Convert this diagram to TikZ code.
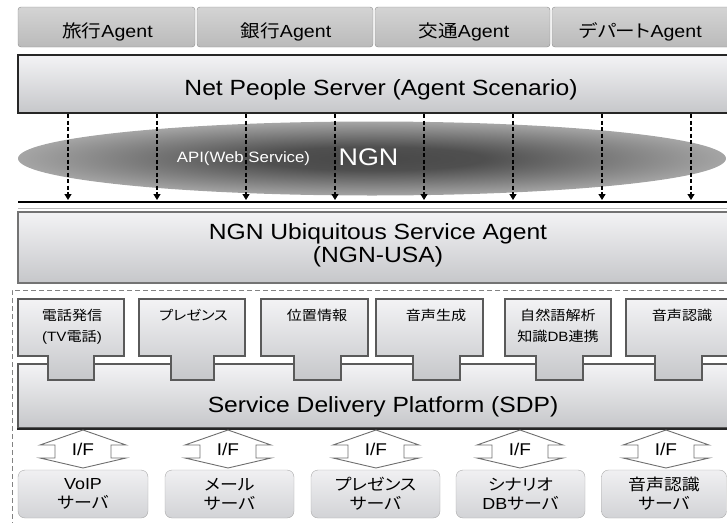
\documentclass[tikz,border=0pt]{standalone}
\usepackage{fontspec}
\setmainfont{Liberation Sans}[FakeStretch=1.12]
\newfontfamily\jp{Noto Sans CJK JP}[FakeStretch=1.12,RawFeature=+palt]
\usepackage{tikz}
\usetikzlibrary{arrows.meta,calc}
\definecolor{tabtop}{RGB}{212,212,212}
\definecolor{tabbottom}{RGB}{186,186,186}
\definecolor{tabline}{RGB}{140,140,140}
\definecolor{boxtop}{RGB}{243,243,245}
\definecolor{boxbottom}{RGB}{198,199,202}
\definecolor{boxline}{RGB}{90,90,90}
\definecolor{usaline}{RGB}{115,115,115}
\definecolor{ngninner}{RGB}{72,72,72}
\definecolor{ngnouter}{RGB}{165,165,165}
\definecolor{srvtop}{RGB}{240,240,242}
\definecolor{srvbottom}{RGB}{210,211,214}
\definecolor{srvline}{RGB}{168,168,168}
\definecolor{ifline}{RGB}{110,110,110}
\definecolor{frameline}{RGB}{130,130,130}
\pgfdeclareradialshading{ngnshade}{\pgfpoint{0bp}{0bp}}{color(0bp)=(ngninner);
  color(8bp)=(ngninner!92!ngnouter); color(25bp)=(ngnouter); color(50bp)=(ngnouter)}

\begin{document}
\begin{tikzpicture}[x=1pt, y=-1pt,
  tab/.style={rectangle, draw=tabline, rounded corners=3pt, top color=tabtop,
    bottom color=tabbottom, inner sep=0pt, minimum height=40pt},
  layer/.style={rectangle, draw=boxline, line width=1.6pt, top color=boxtop,
    bottom color=boxbottom, inner sep=0pt, minimum width=722pt},
  func/.style={draw=boxline, line width=1.6pt, top color=boxtop, bottom color=boxbottom},
  srv/.style={rectangle, draw=srvline, rounded corners=7pt, top color=srvtop,
    bottom color=srvbottom, minimum height=48pt, align=center, inner sep=0pt,
    font={\fontsize{16}{19}\selectfont}},
  tabtext/.style={font={\fontsize{17.5}{20}\selectfont}},
  bigtext/.style={align=center, font={\fontsize{22}{23}\selectfont}},
  functext/.style={anchor=north, align=center, inner sep=0pt,
    font={\fontsize{13.5}{21}\selectfont}},
  iftext/.style={font={\fontsize{17}{18}\selectfont}},
  dasharrow/.style={-{Triangle[length=6pt,width=7pt]}, line width=1.2pt,
    dash pattern=on 4pt off 2.5pt},
  ifarrow/.style={draw=ifline, line width=0.9pt}
]
  \useasboundingbox (0,0) rectangle (727,522);
  \clip (0,0) rectangle (727,522);

  % Agent tabs
  \node[tab, minimum width=177pt] (tabtravel) at (106.5,27) {};
  \node[tab, minimum width=176pt] (tabbank) at (285,27) {};
  \node[tab, minimum width=175pt] (tabtraffic) at (462.5,27) {};
  \node[tab, minimum width=178pt] (tabstore) at (641,27) {};
  \node[tabtext] (travel) at (107.5,31.5) {{\jp 旅行}Agent};
  \node[tabtext] (bank) at (286,31.5) {{\jp 銀行}Agent};
  \node[tabtext] (traffic) at (464,31.5) {{\jp 交通}Agent};
  \node[tabtext] (store) at (640.5,31.5) {{\jp デパート}Agent};

  % Net People Server
  \node[layer, draw=black!85, line width=2.2pt, minimum height=58pt] (nps) at (379,84) {};
  \node[bigtext] (npstext) at (381,89.5) {Net People Server (Agent Scenario)};

  % NGN cloud
  \shade[shading=ngnshade] (372,158.5) ellipse [x radius=354, y radius=37];
  \node[text=white, font={\fontsize{15}{18}\selectfont}] (api) at (243.5,159) {API(Web Service)};
  \node[text=white, font={\fontsize{24}{28}\selectfont}] (ngn) at (368.5,157.5) {NGN};

  % bus line and API calls
  \coordinate (busl) at (18,202);
  \coordinate (busr) at (740,202);
  \draw[line width=2.4pt] (busl) -- (busr);
  \draw[gray!55, line width=1pt] ($(busl)+(0,6)$) -- ($(busr)+(0,6)$);
  \coordinate (a1) at (68,200);
  \coordinate (a2) at (157,200);
  \coordinate (a3) at (246,200);
  \coordinate (a4) at (335,200);
  \coordinate (a5) at (424,200);
  \coordinate (a6) at (513,200);
  \coordinate (a7) at (602,200);
  \coordinate (a8) at (691,200);
  \draw[dasharrow] (nps.south -| a1) -- (a1);
  \draw[dasharrow] (nps.south -| a2) -- (a2);
  \draw[dasharrow] (nps.south -| a3) -- (a3);
  \draw[dasharrow] (nps.south -| a4) -- (a4);
  \draw[dasharrow] (nps.south -| a5) -- (a5);
  \draw[dasharrow] (nps.south -| a6) -- (a6);
  \draw[dasharrow] (nps.south -| a7) -- (a7);
  \draw[dasharrow] (nps.south -| a8) -- (a8);

  % NGN-USA
  \node[layer, draw=usaline, minimum height=71pt] (usa) at (379,247.5) {};
  \node[bigtext] (usatext) at (378,245) {NGN Ubiquitous Service Agent\\(NGN-USA)};

  % dashed frame
  \draw[frameline, line width=0.8pt, dash pattern=on 5pt off 3pt] (740,290) -- (12,290) -- (12,530);

  % SDP and functions
  \node[layer, minimum height=64pt] (sdp) at (379,396) {};
  \draw[black!85, line width=2.4pt] (sdp.south west) -- (sdp.south east);
  \node[bigtext] (sdptext) at (383,406.5) {Service Delivery Platform (SDP)};

  \draw[func] (18,299) -- (124,299) -- (124,356) -- (94,356) -- (94,380) -- (48,380) -- (48,356) -- (18,356) -- cycle;
  \draw[func] (139,299) -- (245,299) -- (245,356) -- (214,356) -- (214,380) -- (171,380) -- (171,356) -- (139,356) -- cycle;
  \draw[func] (261,299) -- (368,299) -- (368,356) -- (341,356) -- (341,380) -- (294,380) -- (294,356) -- (261,356) -- cycle;
  \draw[func] (376,299) -- (483,299) -- (483,356) -- (460,356) -- (460,380) -- (413,380) -- (413,356) -- (376,356) -- cycle;
  \draw[func] (505,299) -- (611,299) -- (611,356) -- (583,356) -- (583,380) -- (536,380) -- (536,356) -- (505,356) -- cycle;
  \draw[func] (626,299) -- (740,299) -- (740,356) -- (702,356) -- (702,380) -- (655,380) -- (655,356) -- (626,356) -- cycle;
  \node[functext] (call) at (72,309) {{\jp 電話発信}\\(TV{\jp 電話})};
  \node[functext] (presence) at (193.5,309) {{\jp プレゼンス}};
  \node[functext] (location) at (317,309) {{\jp 位置情報}};
  \node[functext] (synth) at (436,309) {{\jp 音声生成}};
  \node[functext] (nlp) at (558,309) {{\jp 自然語解析}\\{\jp 知識}DB{\jp 連携}};
  \node[functext] (asr) at (682,309) {{\jp 音声認識}};

  % I/F
  \node[iftext] (if1) at (83,449.5) {I/F};
  \node[iftext] (if2) at (228,449.5) {I/F};
  \node[iftext] (if3) at (376,449.5) {I/F};
  \node[iftext] (if4) at (520,449.5) {I/F};
  \node[iftext] (if5) at (666,449.5) {I/F};
  \foreach \n in {1,...,5}
    \draw[ifarrow] (if\n.center) +(0,-19.5) -- +(43,-4.5) -- +(28,-4.5) -- +(28,8.5)
      -- +(43,8.5) -- +(0,18.5) -- +(-43,8.5) -- +(-28,8.5) -- +(-28,-4.5)
      -- +(-43,-4.5) -- cycle;

  % servers
  \node[srv, minimum width=130pt] (voip) at (83,494) {VoIP\\{\jp サーバ}};
  \node[srv, minimum width=129pt] (mail) at (229.5,494) {{\jp メール}\\{\jp サーバ}};
  \node[srv, minimum width=129pt] (pres) at (375.5,494) {{\jp プレゼンス}\\{\jp サーバ}};
  \node[srv, minimum width=129pt] (scen) at (520.5,494) {{\jp シナリオ}\\DB{\jp サーバ}};
  \node[srv, minimum width=125pt] (asrsrv) at (664,494) {{\jp 音声認識}\\{\jp サーバ}};
\end{tikzpicture}
\end{document}
